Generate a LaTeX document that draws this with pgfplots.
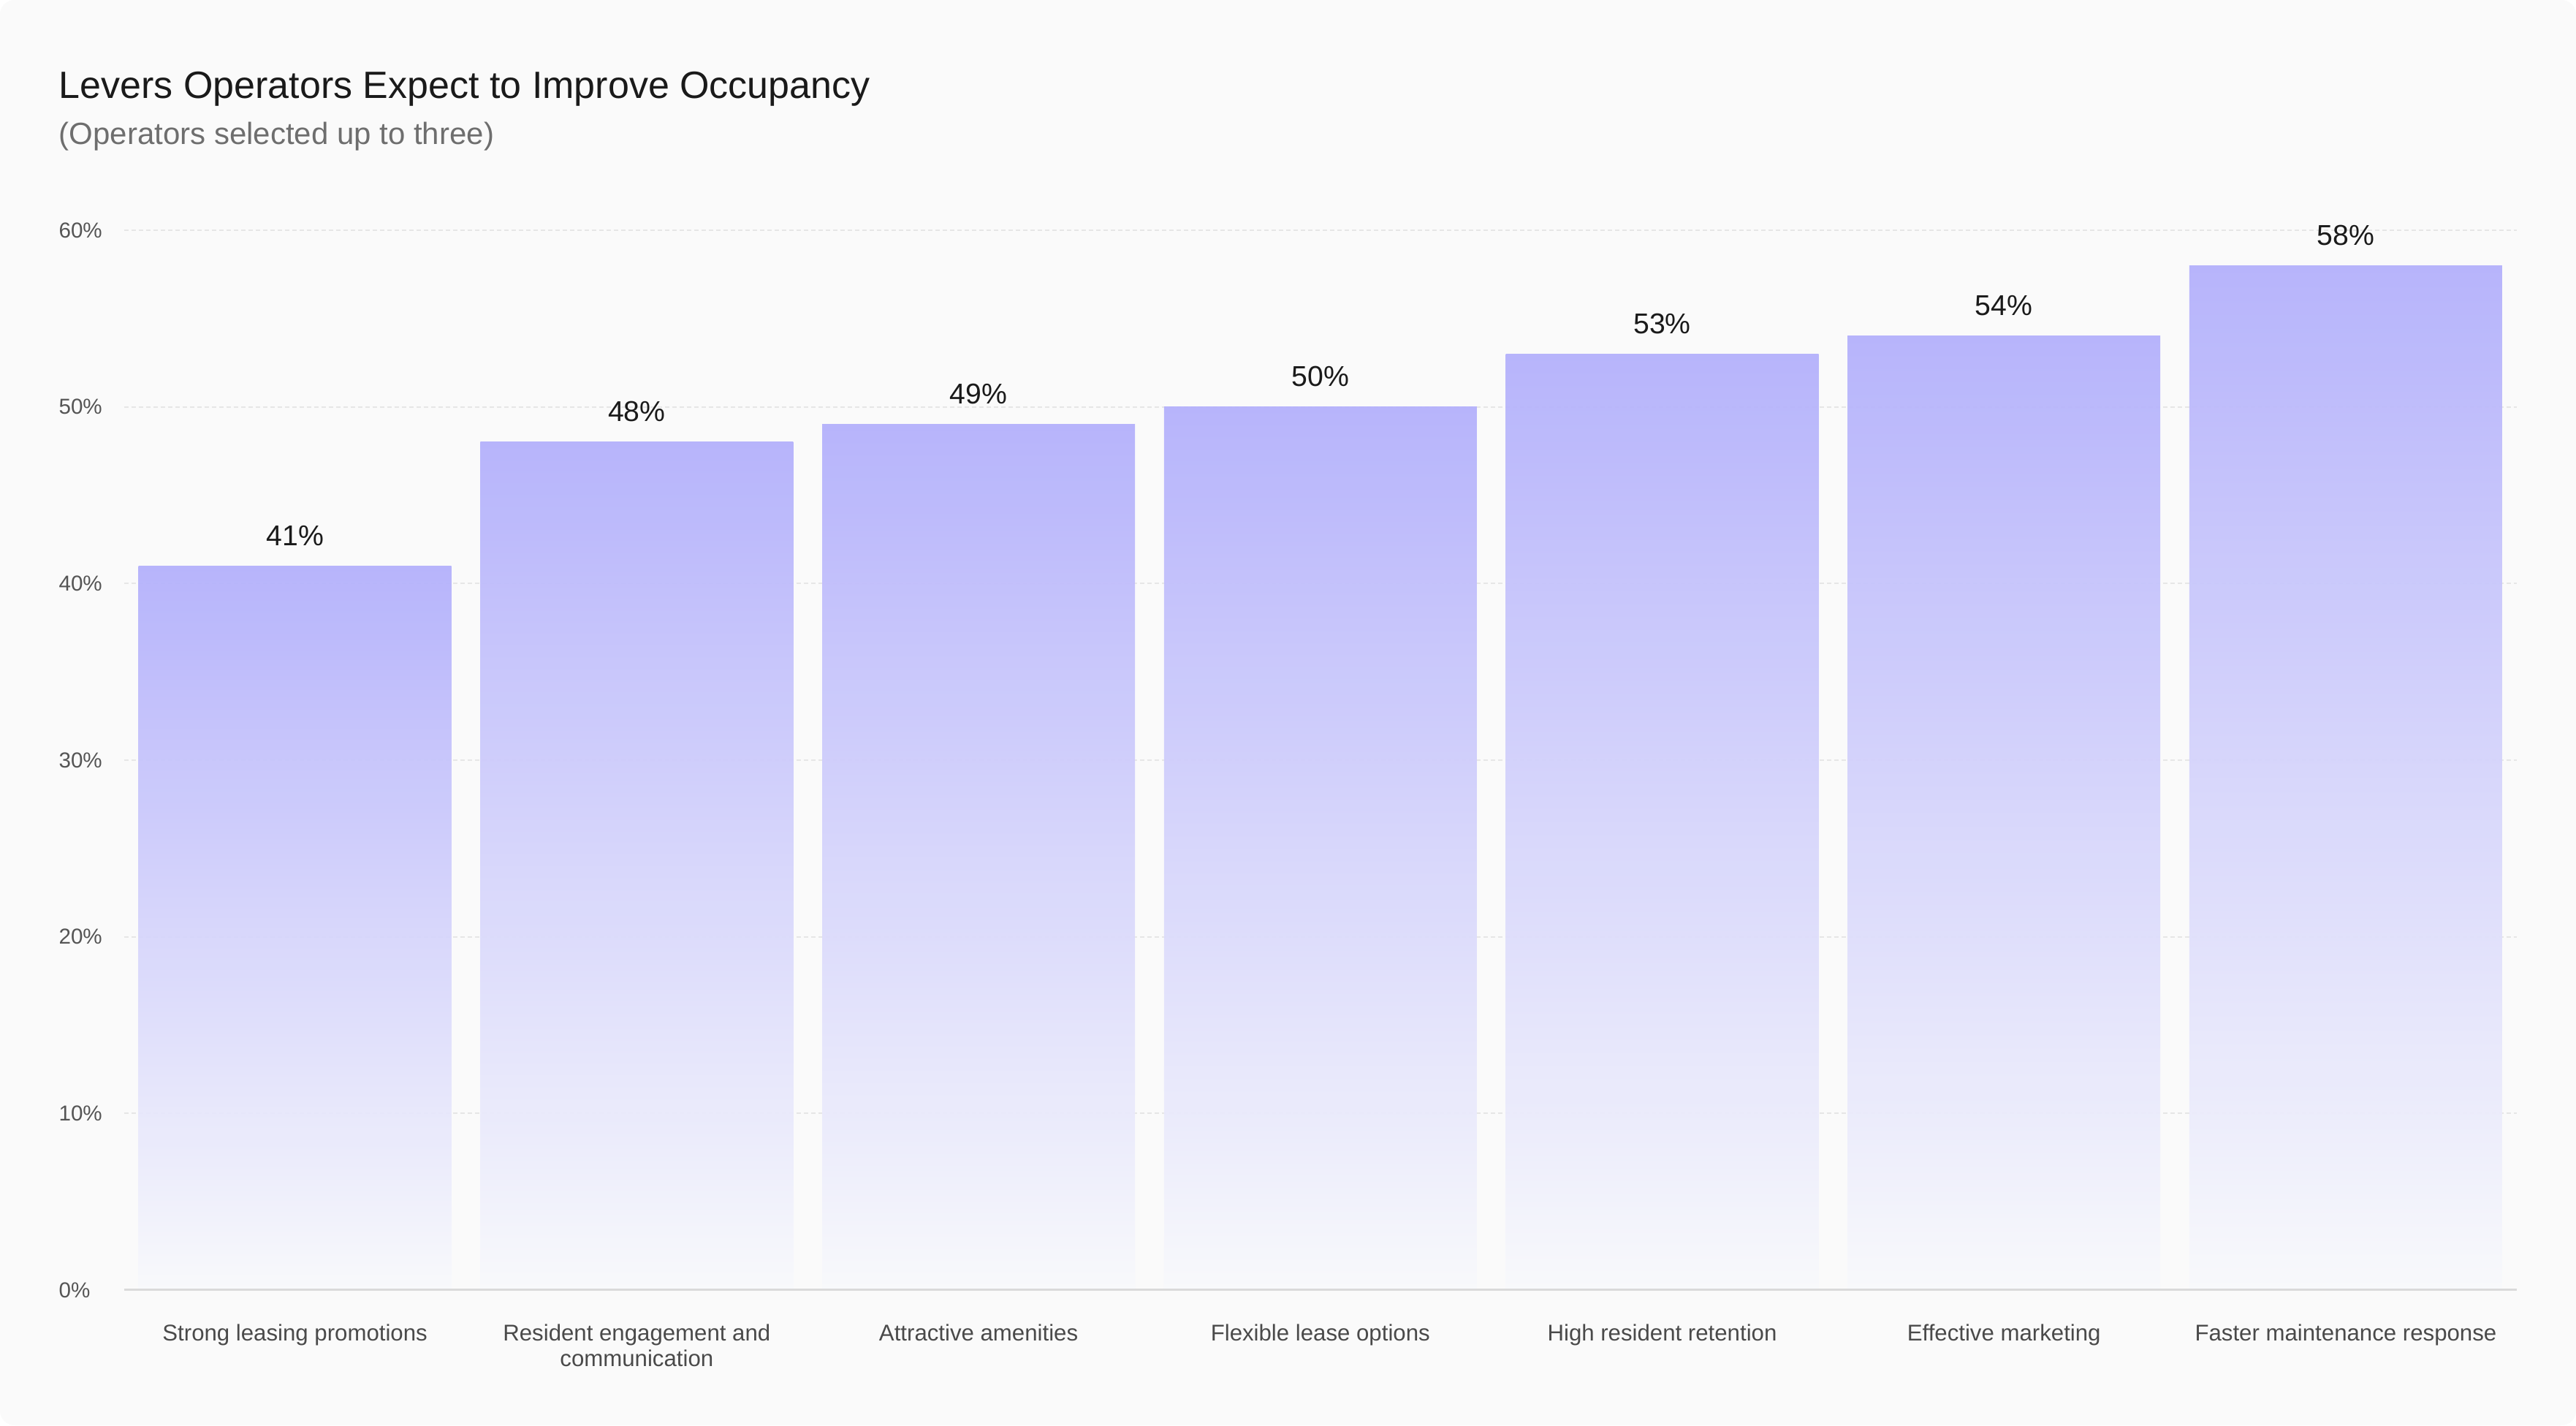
\documentclass[border=0pt]{standalone}
\usepackage{fontspec}
\setmainfont{Liberation Sans}
\usepackage{pgfplots}
\pgfplotsset{compat=1.18}
\definecolor{bg}{HTML}{FAFAFA}
\definecolor{titlec}{HTML}{1A1A1A}
\definecolor{subc}{HTML}{6E6E6E}
\definecolor{tickc}{HTML}{555555}
\definecolor{catc}{HTML}{4A4A4A}
\definecolor{gridc}{HTML}{E6E6E6}
\definecolor{axisc}{HTML}{DADADA}
\definecolor{barT}{HTML}{B3B0FC}
\definecolor{barM}{HTML}{CDD5FA}
\definecolor{barB}{HTML}{F8F9FC}
\pgfplotsset{
  mybar/.style={ybar, bar width=107pt, bar shift=0pt, draw=none,
    top color=barT, middle color=barM, bottom color=barB, fill opacity=0.94,
    nodes near coords={\pgfmathprintnumber{\pgfplotspointmeta}\%},
    point meta=y,
    every node near coord/.append style={anchor=base, yshift=7pt, inner sep=0pt,
      text=titlec, text opacity=1, fill opacity=1, font=\fontsize{9.8}{11}\selectfont}},
}
\begin{document}
\begin{tikzpicture}[x=1pt,y=1pt]
\fill[white] (0,0) rectangle (881.25,487.5);
\fill[bg, rounded corners=5pt] (0,0) rectangle (881.25,487.5);
\node[anchor=base west, inner sep=0pt, font=\fontsize{13}{15}\selectfont, text=titlec] at (20,453.75) {Levers Operators Expect to Improve Occupancy};
\node[anchor=base west, inner sep=0pt, font=\fontsize{10.5}{12}\selectfont, text=subc] at (20,438) {(Operators selected up to three)};
\begin{axis}[
  at={(36.3,76.6)}, anchor=south west,
  scale only axis, width=818.5pt, height=362.5pt,
  xmin=-0.5, xmax=6.5, ymin=0, ymax=60,
  clip=false,
  axis x line*=bottom, axis y line*=left,
  x axis line style={draw=none},
  y axis line style={draw=none},
  major tick length=0pt,
  tick style={draw=none},
  ytick={0,10,20,30,40,50,60},
  yticklabel={\pgfmathprintnumber{\tick}\%},
  /pgf/number format/assume math mode=true,
  yticklabel style={anchor=west, xshift=-22.5pt, inner sep=0pt, text=tickc, font=\fontsize{7.4}{8}\selectfont},
  ymajorgrids,
  grid style={dash pattern=on 1.5pt off 1pt, color=gridc, line width=0.5pt},
  xtick={0,1,2,3,4,5,6},
  xticklabels={Strong leasing promotions, {Resident engagement and\\communication}, Attractive amenities, Flexible lease options, High resident retention, Effective marketing, Faster maintenance response},
  xticklabel style={anchor=north, yshift=-11.5pt, inner sep=0pt, align=center, text=catc, font=\fontsize{7.8}{8.75}\selectfont},
]
\addplot[mybar] coordinates {(0,41)};
\addplot[mybar] coordinates {(1,48)};
\addplot[mybar] coordinates {(2,49)};
\addplot[mybar] coordinates {(3,50)};
\addplot[mybar] coordinates {(4,53)};
\addplot[mybar] coordinates {(5,54)};
\addplot[mybar] coordinates {(6,58)};
\draw[axisc, line width=0.75pt] (axis cs:-0.5,0) -- (axis cs:6.5,0);
\end{axis}
\pgfresetboundingbox
\path[use as bounding box] (0,0) rectangle (881.25,487.5);
\end{tikzpicture}
\end{document}
